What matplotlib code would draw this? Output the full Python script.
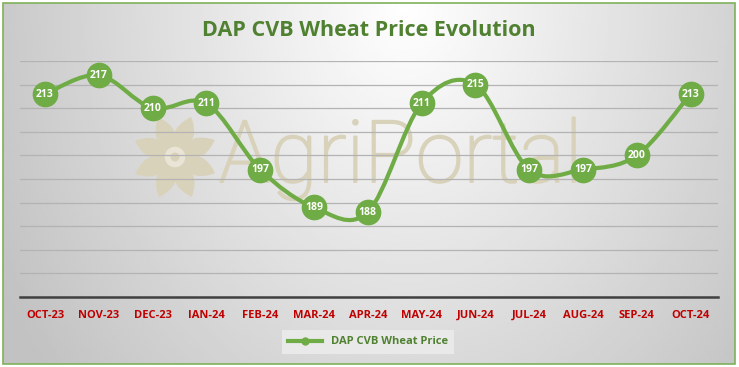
import matplotlib
matplotlib.use("Agg")
import matplotlib.pyplot as plt
import matplotlib.patheffects as pe
import numpy as np
from matplotlib.path import Path
from matplotlib.patches import PathPatch, Rectangle, Polygon, Circle
from matplotlib.lines import Line2D

months = ["OCT-23", "NOV-23", "DEC-23", "IAN-24", "FEB-24", "MAR-24", "APR-24",
          "MAY-24", "JUN-24", "JUL-24", "AUG-24", "SEP-24", "OCT-24"]
prices = [213, 217, 210, 211, 197, 189, 188, 211, 215, 197, 197, 200, 213]
series_name = "DAP CVB Wheat Price"
title = "DAP CVB Wheat Price Evolution"

GREEN = "#6fac46"
DARK_GREEN = "#4f8130"
RED = "#c00000"
BEIGE = "#d9d2ba"

W, H = 739, 367
fig = plt.figure(figsize=(W / 100, H / 100), dpi=100)

# background in pixel coordinates
bg = fig.add_axes([0, 0, 1, 1], zorder=0)
bg.axis("off")
gx, gy = np.meshgrid(np.linspace(0, 1, 300), np.linspace(0, 1, 150))
r = np.sqrt(((gx - 0.55) / 0.5) ** 2 + (gy / 1.3) ** 2)
shade = np.clip(1.0 - 0.19 * r, 0.76, 1.0)
bg.imshow(shade, cmap="gray", vmin=0, vmax=1, aspect="auto", extent=[3, 735, 364, 3],
          interpolation="bilinear")
bg.set_xlim(0, W)
bg.set_ylim(H, 0)
bg.add_patch(Rectangle((3, 3), 732, 361, fill=False, ec="#7fb05a", lw=1.2))

# watermark flower
cx, cy = 175, 157
u = np.linspace(0, 1, 40)
half = 11 * np.sin(np.pi * u) ** 0.8 * (1 - 0.3 * u)
for k in range(8):
    a = np.radians(k * 45 + 22)
    d = np.array([np.cos(a), np.sin(a)])
    nrm = np.array([-d[1], d[0]])
    rad = 8 + 35 * u
    left = np.outer(rad, d) + np.outer(half, nrm)
    right = np.outer(rad, d) - np.outer(half, nrm)
    pts = np.vstack([left, right[::-1]]) + [cx, cy]
    bg.add_patch(Polygon(pts, closed=True, fc=BEIGE, ec="none"))
bg.add_patch(Circle((cx, cy), 12, fc="#e9e4d6", ec=BEIGE, lw=2.5))
bg.add_patch(Circle((cx, cy), 4.5, fc=BEIGE, ec="none"))
bg.text(219, 182, "AgriPortal", fontsize=62, family="Roboto", fontweight="light",
        color=BEIGE, ha="left", va="baseline",
        path_effects=[pe.withStroke(linewidth=1.4, foreground=BEIGE)])

ax = fig.add_axes([20 / W, 1 - 297 / H, 698 / W, 236 / H], zorder=2)
ax.patch.set_alpha(0)
x = np.arange(len(prices))
y = np.array(prices, dtype=float)

# smoothed line (Catmull-Rom bezier segments)
verts = [(x[0], y[0])]
codes = [Path.MOVETO]
n = len(x)
for i in range(n - 1):
    p0 = np.array([x[max(i - 1, 0)], y[max(i - 1, 0)]])
    p1 = np.array([x[i], y[i]])
    p2 = np.array([x[i + 1], y[i + 1]])
    p3 = np.array([x[min(i + 2, n - 1)], y[min(i + 2, n - 1)]])
    c1 = p1 + (p2 - p0) / 6
    c2 = p2 - (p3 - p1) / 6
    verts += [tuple(c1), tuple(c2), tuple(p2)]
    codes += [Path.CURVE4] * 3
ax.add_patch(PathPatch(Path(verts, codes), fc="none", ec=GREEN, lw=3, zorder=3))
ax.plot(x, y, "o", ms=17.5, color=GREEN, mec=GREEN, zorder=4)
for xi, yi in zip(x, prices):
    ax.text(xi, yi, str(yi), ha="center", va="center", color="white",
            fontsize=7.5, fontweight="bold", family="Open Sans", zorder=5)

ax.set_xlim(-0.465, 12.51)
ax.set_ylim(170, 220)
ax.set_yticks(np.arange(170, 221, 5))
ax.yaxis.grid(True, color="#b3b3b3", lw=0.9)
ax.set_axisbelow(True)
ax.tick_params(axis="y", left=False, labelleft=False)
ax.set_xticks(x)
ax.set_xticklabels(months, color=RED, fontsize=8, fontweight="bold", family="Open Sans")
ax.tick_params(axis="x", length=0, pad=9)
for s in ["top", "right", "left"]:
    ax.spines[s].set_visible(False)
ax.spines["bottom"].set_color("#404040")
ax.spines["bottom"].set_linewidth(1.8)

fig.text(369 / W, 1 - 30 / H, title, ha="center", va="center", fontsize=15.5,
         fontweight="bold", color=DARK_GREEN, family="Open Sans")

proxy = Line2D([], [], color=GREEN, lw=3, marker="o", ms=5)
leg = fig.legend(handles=[proxy], labels=[series_name], loc="center",
                 bbox_to_anchor=(368 / W, 1 - 342 / H), frameon=True, fancybox=False,
                 facecolor="#e9e9e9", edgecolor="none", framealpha=1, handlelength=3,
                 borderpad=0.6, prop={"family": "Open Sans", "weight": "bold", "size": 8})
for t in leg.get_texts():
    t.set_color(DARK_GREEN)

fig.savefig("out.png", dpi=100, facecolor="white")
